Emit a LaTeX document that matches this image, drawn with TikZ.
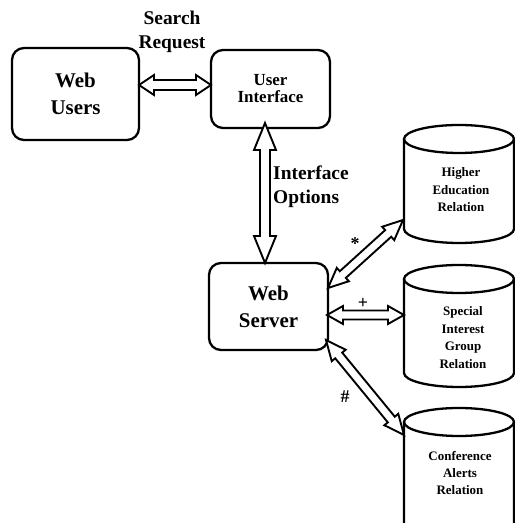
\documentclass[tikz,border=0pt]{standalone}
\usepackage{fontspec}
\setmainfont{Liberation Serif}
\usetikzlibrary{calc}

% hollow double-headed arrow: #1 start, #2 end, #3 head length, #4 head half-width, #5 shaft half-width
\newcommand\hollowarrow[5]{%
  \draw[arrowline] (#1)
    -- ($(#1)!#3!(#2)!#4!90:(#2)$)
    -- ($(#1)!#3!(#2)!#5!90:(#2)$)
    -- ($(#2)!#3!(#1)!#5!-90:(#1)$)
    -- ($(#2)!#3!(#1)!#4!-90:(#1)$)
    -- (#2)
    -- ($(#2)!#3!(#1)!#4!90:(#1)$)
    -- ($(#2)!#3!(#1)!#5!90:(#1)$)
    -- ($(#1)!#3!(#2)!#5!-90:(#2)$)
    -- ($(#1)!#3!(#2)!#4!-90:(#2)$)
    -- cycle;}

% database cylinder: #1 centre x, #2 top ellipse y, #3 bottom ellipse y
\newcommand\dbcylinder[3]{%
  \draw[cylline] (#1-55,#2) -- (#1-55,#3)
    arc[start angle=180, end angle=360, x radius=55, y radius=14]
    -- (#1+55,#2);
  \draw[cylline] (#1,#2) ellipse[x radius=55, y radius=14];}

\begin{document}
\begin{tikzpicture}[x=1bp, y=1bp,
  box/.style={draw, line width=2.3bp, rounded corners=12bp, inner sep=0pt, align=center},
  bigtext/.style={font=\fontsize{21}{27}\selectfont\bfseries},
  uitext/.style={font=\fontsize{17}{17}\selectfont\bfseries},
  labeltext/.style={font=\fontsize{19.5}{24}\selectfont\bfseries, inner sep=0pt},
  dbtext/.style={font=\fontsize{13}{17.5}\selectfont\bfseries, align=center, inner sep=0pt},
  marktext/.style={font=\fontsize{18}{18}\selectfont\bfseries, inner sep=0pt},
  arrowline/.style={draw, line width=1.9bp, line join=miter, fill=white},
  cylline/.style={line width=2.3bp}]

\useasboundingbox (0,0) rectangle (515,523);

% boxes
\node[box, bigtext, minimum width=127bp, minimum height=92bp] (wu) at (75.5,429) {Web\\Users};
\node[box, uitext, minimum width=119bp, minimum height=78bp] (ui) at (270.5,434) {User\\Interface};
\node[box, bigtext, minimum width=119bp, minimum height=87bp] (ws) at (268.5,216.5) {Web\\Server};

% relations
\dbcylinder{459}{384}{294}
\dbcylinder{459}{244}{150}
\dbcylinder{459}{101}{-30}
\node[dbtext] (he) at (461,333) {Higher\\Education\\Relation};
\node[dbtext] (sig) at (463,185.5) {Special\\Interest\\Group\\Relation};
\node[dbtext] (ca) at (460,50) {Conference\\Alerts\\Relation};

% connector ends
\coordinate (a1s) at (139,438);
\coordinate (a1e) at (211,438);
\coordinate (a2s) at (265,400);
\coordinate (a2e) at (265,260);
\coordinate (a3s) at (328,235);
\coordinate (a3e) at (403,303);
\coordinate (a4s) at (327,208);
\coordinate (a4e) at (404,208);
\coordinate (a5s) at (326,183);
\coordinate (a5e) at (404,88);

% connectors
\hollowarrow{a1s}{a1e}{15bp}{10bp}{5bp}
\hollowarrow{a2s}{a2e}{27bp}{11bp}{5bp}
\hollowarrow{a3s}{a3e}{20bp}{9bp}{4.5bp}
\hollowarrow{a4s}{a4e}{16bp}{9bp}{4.5bp}
\hollowarrow{a5s}{a5e}{20bp}{9bp}{4.5bp}

% labels
\node[labeltext, align=center] (sr) at (172,491) {Search\\Request};
\node[labeltext, align=left, anchor=west] (io) at (273,336) {Interface\\Options};
\node[marktext] (m1) at (355,279) {*};
\node[marktext] (m2) at (363,220) {+};
\node[marktext] (m3) at (345,126) {\#};
\end{tikzpicture}
\end{document}
